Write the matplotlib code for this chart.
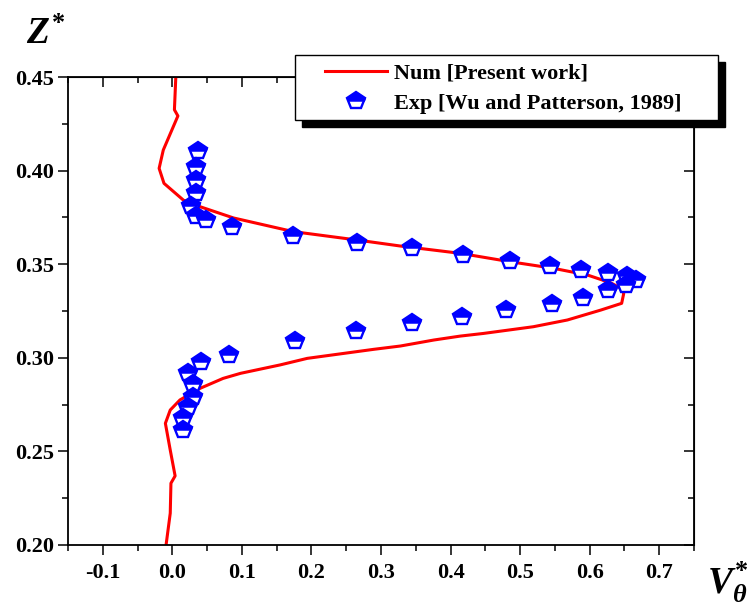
import numpy as np
import matplotlib
matplotlib.use('Agg')
import matplotlib.pyplot as plt
from matplotlib.patches import Rectangle
from matplotlib.lines import Line2D
from matplotlib.path import Path

plt.rcParams['font.family'] = 'Liberation Serif'
plt.rcParams['font.weight'] = 'bold'
plt.rcParams['mathtext.fontset'] = 'custom'
plt.rcParams['mathtext.it'] = 'Liberation Serif:italic:bold'
plt.rcParams['mathtext.rm'] = 'Liberation Serif:bold'

# numerical profile (present work)
num_v = [0.005, 0.003, 0.008, -0.013, -0.019, -0.012, 0.016, 0.040, 0.088, 0.174,
         0.266, 0.328, 0.414, 0.486, 0.548, 0.597, 0.630, 0.645, 0.649, 0.646,
         0.616, 0.568, 0.519, 0.447, 0.414, 0.376, 0.328, 0.289, 0.194, 0.155,
         0.098, 0.073, 0.040, 0.011, -0.003, -0.010, -0.003, 0.004, -0.002, -0.003,
         -0.009]
num_z = [0.450, 0.4325, 0.4292, 0.411, 0.4012, 0.3932, 0.3842, 0.3807, 0.3747, 0.3674,
         0.3629, 0.3597, 0.3558, 0.3513, 0.3478, 0.3442, 0.3401, 0.3371, 0.3344, 0.3291,
         0.3255, 0.3202, 0.3166, 0.3130, 0.3116, 0.3095, 0.3063, 0.3045, 0.2997, 0.2962,
         0.2917, 0.2890, 0.2837, 0.2775, 0.2721, 0.2650, 0.2507, 0.2369, 0.2330, 0.2170,
         0.2000]

# experiment (Wu and Patterson, 1989)
exp_v = [0.037, 0.034, 0.034, 0.034, 0.027, 0.034, 0.049, 0.086, 0.173, 0.265,
         0.345, 0.418, 0.485, 0.543, 0.588, 0.627, 0.653, 0.666, 0.652, 0.627,
         0.590, 0.546, 0.480, 0.416, 0.345, 0.264, 0.176, 0.082, 0.041, 0.0225,
         0.0298, 0.0298, 0.0225, 0.015, 0.015]
exp_z = [0.4105, 0.402, 0.395, 0.388, 0.381, 0.3757, 0.3735, 0.3697, 0.3652, 0.3615,
         0.3585, 0.355, 0.3519, 0.349, 0.3469, 0.3451, 0.3437, 0.3416, 0.3389, 0.3362,
         0.3321, 0.3287, 0.3255, 0.3220, 0.3184, 0.3143, 0.309, 0.3015, 0.298, 0.2917,
         0.2858, 0.2792, 0.2739, 0.2677, 0.2614]

# upper (filled) part of the pentagon, same scale as marker 'p'
cut = 0.05
xr = 0.951 - (0.951 - 0.588) * (0.309 - cut) / (0.309 + 0.809)
top_half = Path([(0, 1), (0.951, 0.309), (xr, cut), (-xr, cut), (-0.951, 0.309), (0, 1)],
                [Path.MOVETO, Path.LINETO, Path.LINETO, Path.LINETO, Path.LINETO, Path.CLOSEPOLY])

fig = plt.figure(figsize=(7.5, 6.04), dpi=100)
ax = fig.add_axes([68/750, 1 - 545/604, 626/750, 468/604])

mk_out = dict(marker='p', ms=13, mfc='white', mec='blue', mew=1.7, ls='none')
mk_top = dict(marker=top_half, ms=13, mfc='blue', mec='blue', mew=1.0, ls='none')
ax.plot(num_v, num_z, '-', color='red', lw=2.2, zorder=2)
ax.plot(exp_v, exp_z, zorder=3, **mk_out)
ax.plot(exp_v, exp_z, zorder=3, **mk_top)

ax.set_xlim(-0.15, 0.75)
ax.set_ylim(0.20, 0.45)
ax.set_xticks(np.arange(-0.1, 0.71, 0.1))
ax.set_xticks(np.arange(-0.15, 0.751, 0.05), minor=True)
ax.set_yticks(np.arange(0.20, 0.451, 0.05))
ax.set_yticks(np.arange(0.20, 0.451, 0.025), minor=True)
ax.set_xticklabels(['%.1f' % t for t in np.arange(-0.1, 0.71, 0.1)])
ax.set_yticklabels(['%.2f' % t for t in np.arange(0.20, 0.451, 0.05)])
for s in ax.spines.values():
    s.set_linewidth(1.3)
ax.tick_params(axis='x', which='major', length=7, width=1.1, labelsize=16, pad=6, direction='out')
ax.tick_params(axis='y', which='major', length=7, width=1.1, labelsize=16, pad=3, direction='out')
ax.tick_params(which='minor', length=4, width=1.1, direction='out')

# inward ticks on top and right
top = ax.secondary_xaxis('top')
top.set_xticks(ax.get_xticks())
top.set_xticks(np.arange(-0.15, 0.751, 0.05), minor=True)
top.tick_params(which='major', direction='in', length=7, width=1.1, labeltop=False)
top.tick_params(which='minor', direction='in', length=4, width=1.1)
right = ax.secondary_yaxis('right')
right.set_yticks(np.arange(0.20, 0.451, 0.05))
right.set_yticks(np.arange(0.20, 0.451, 0.025), minor=True)
right.tick_params(which='major', direction='in', length=7, width=1.1, labelright=False)
right.tick_params(which='minor', direction='in', length=4, width=1.1)

# axis labels
fig.text(26/750, 1 - 44/604, r'$Z^{*}$', fontsize=27, ha='left', va='baseline')
fig.text(707/750, 1 - 594/604, r'$V_{\theta}^{*}$', fontsize=27, ha='left', va='baseline')

# legend box with shadow
bx, by, bw, bh = 295/750, 1 - 120/604, 423/750, 65/604
fig.add_artist(Rectangle((bx + 7/750, by - 7/604), bw, bh, transform=fig.transFigure,
                         facecolor='black', edgecolor='black', zorder=4))
fig.add_artist(Rectangle((bx, by), bw, bh, transform=fig.transFigure,
                         facecolor='white', edgecolor='black', lw=1.0, zorder=4.5))
h1 = Line2D([], [], color='red', lw=2.2)
h2 = (Line2D([], [], **mk_out), Line2D([], [], **mk_top))
leg = fig.legend([h1, h2], ['Num [Present work]', 'Exp [Wu and Patterson, 1989]'],
                 loc='center left', bbox_to_anchor=(325/750, 1 - 88.5/604), frameon=False,
                 borderpad=0, borderaxespad=0, handlelength=2.8, handletextpad=0.3,
                 labelspacing=0.45, numpoints=1, fontsize=16)
leg.set_zorder(5)

plt.savefig('out.png', dpi=100)
